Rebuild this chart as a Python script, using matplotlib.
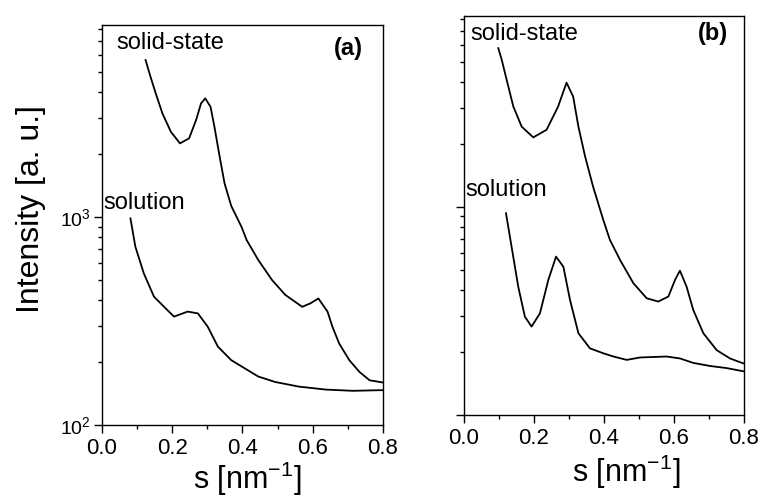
import matplotlib
matplotlib.use("Agg")
import matplotlib.pyplot as plt
from matplotlib.ticker import LogLocator, NullFormatter, MultipleLocator

plt.rcParams['font.family'] = ['Liberation Sans', 'DejaVu Sans']
plt.rcParams['mathtext.fontset'] = 'custom'
plt.rcParams['mathtext.rm'] = 'Liberation Sans'
plt.rcParams['mathtext.it'] = 'Liberation Sans:italic'
plt.rcParams['mathtext.bf'] = 'Liberation Sans:bold'

# panel (a)
s_solid_a = [0.124, 0.138, 0.153, 0.172, 0.196, 0.222, 0.248, 0.268, 0.282,
             0.294, 0.309, 0.320, 0.335, 0.349, 0.368, 0.397, 0.412, 0.445, 0.484,
             0.522, 0.570, 0.594, 0.616, 0.642, 0.656, 0.675, 0.704, 0.733, 0.762,
             0.791, 0.800]
i_solid_a = [5690, 4730, 3930, 3150, 2570, 2260, 2390, 2930, 3520,
             3720, 3390, 2720, 1950, 1450, 1130, 898, 774, 621, 498,
             422, 370, 385, 406, 351, 297, 247, 205, 180, 164,
             161, 160]

s_sol_a = [0.081, 0.095, 0.119, 0.148, 0.186, 0.205, 0.244, 0.273, 0.301,
           0.330, 0.368, 0.407, 0.445, 0.493, 0.560, 0.637, 0.714, 0.791, 0.800]
i_sol_a = [985, 720, 536, 414, 357, 332, 351, 344, 297,
           238, 205, 187, 171, 161, 153, 148, 146, 147, 147]

# panel (b)
s_solid_b = [0.098, 0.108, 0.122, 0.141, 0.165, 0.198, 0.236, 0.269, 0.293, 0.312,
             0.327, 0.346, 0.369, 0.398, 0.417, 0.446, 0.484, 0.522, 0.555, 0.584,
             0.603, 0.617, 0.636, 0.655, 0.684, 0.722, 0.760, 0.798, 0.800]
i_solid_b = [5800, 5090, 4080, 3040, 2430, 2160, 2350, 3040, 3960, 3390,
             2430, 1750, 1250, 866, 694, 556, 430, 364, 351, 371,
             446, 494, 414, 320, 247, 205, 187, 177, 177]

s_sol_b = [0.120, 0.136, 0.155, 0.174, 0.193, 0.217, 0.241, 0.263, 0.284, 0.303,
           0.327, 0.360, 0.398, 0.427, 0.465, 0.503, 0.579, 0.617, 0.655, 0.703,
           0.751, 0.800]
i_sol_b = [933, 644, 414, 297, 266, 308, 446, 577, 516, 357,
           247, 209, 198, 191, 184, 189, 191, 187, 178, 172,
           168, 162]

fig = plt.figure(figsize=(7.64, 4.98), dpi=100)
ax1 = fig.add_axes([0.1335, 0.1466, 0.3678, 0.8032])
ax2 = fig.add_axes([0.6073, 0.1667, 0.3665, 0.8012])

panels = [
    (ax1, s_solid_a, i_solid_a, s_sol_a, i_sol_a, "(a)", 8380, (0.93, 0.94)),
    (ax2, s_solid_b, i_solid_b, s_sol_b, i_sol_b, "(b)", 8280, (0.943, 0.957)),
]

for ax, xs1, ys1, xs2, ys2, tag, ytop, tagpos in panels:
    ax.plot(xs1, ys1, color='black', lw=1.3)
    ax.plot(xs2, ys2, color='black', lw=1.3)
    ax.set_yscale('log')
    ax.set_xlim(0, 0.8)
    ax.set_ylim(100, ytop)
    ax.xaxis.set_major_locator(MultipleLocator(0.2))
    ax.xaxis.set_minor_locator(MultipleLocator(0.1))
    ax.yaxis.set_major_locator(LogLocator(base=10))
    ax.yaxis.set_minor_locator(LogLocator(base=10, subs=range(2, 10)))
    ax.yaxis.set_minor_formatter(NullFormatter())
    ax.tick_params(which='major', direction='out', length=6, width=1,
                   top=False, right=False)
    ax.tick_params(which='minor', direction='out', length=3, width=1,
                   top=False, right=False)
    ax.tick_params(axis='x', labelsize=16)
    ax.tick_params(axis='y', labelsize=14, pad=2)
    for sp in ax.spines.values():
        sp.set_linewidth(1)
    ax.set_xlabel(r's [nm$^{-1}$]', fontsize=22, va='center')
    ax.text(tagpos[0], tagpos[1], tag, transform=ax.transAxes, ha='right',
            va='center', fontsize=17, fontweight='bold')

ax1.xaxis.set_label_coords(0.516, -0.135)
ax2.xaxis.set_label_coords(0.58, -0.142)
ax2.yaxis.set_major_formatter(NullFormatter())

ax1.set_ylabel('Intensity [a. u.]', fontsize=23)
ax1.yaxis.set_label_coords(-0.2, 0.54)

ax1.text(0.04, 6870, 'solid-state', fontsize=17, ha='left', va='center')
ax1.text(0.004, 1166, 'solution', fontsize=17, ha='left', va='center')
ax2.text(0.019, 6810, 'solid-state', fontsize=17, ha='left', va='center')
ax2.text(0.003, 1203, 'solution', fontsize=17, ha='left', va='center')

fig.savefig('out.png', dpi=100)
